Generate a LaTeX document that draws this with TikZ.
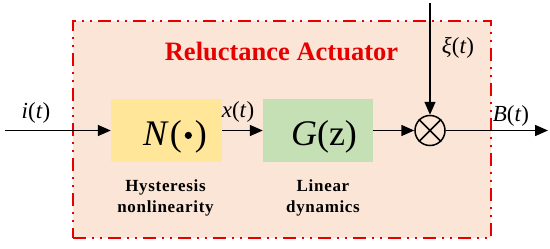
\documentclass[tikz,border=0pt]{standalone}
\usepackage{fontspec}
\setmainfont{Liberation Serif}
\newcommand{\tnr}{\rmfamily}
\usetikzlibrary{arrows.meta}
\definecolor{peach}{HTML}{FBE5D6}
\definecolor{blockyellow}{HTML}{FFE699}
\definecolor{blockgreen}{HTML}{C5E0B4}
\definecolor{framered}{HTML}{E60000}
\newcommand{\mi}[1]{\textit{#1}}
\begin{document}
\begin{tikzpicture}[x=1pt,y=-1pt,
  arr/.style={line width=1.5pt,-{Triangle[length=13pt,width=11pt]}},
  block/.style={draw=none,minimum width=111pt,minimum height=63pt,inner sep=0pt},
  sig/.style={anchor=base,inner sep=0pt,font=\tnr\fontsize{23}{26}\selectfont},
  big/.style={anchor=base,inner sep=0pt,font=\tnr\fontsize{36}{40}\selectfont},
  sub/.style={anchor=base,inner sep=0pt,font=\tnr\fontsize{17}{21}\selectfont\bfseries}]
\useasboundingbox (0,0) rectangle (550,249);
\node[draw=framered,line width=2pt,dash pattern=on 13pt off 6pt on 2pt off 6pt on 2pt off 6pt,
      fill=peach,minimum width=418pt,minimum height=217pt,inner sep=0pt] (act) at (282,129.5) {};
\node[anchor=base,inner sep=0pt,text=framered,font=\tnr\fontsize{26.5}{30}\selectfont\bfseries] (title) at (281.5,60) {Reluctance Actuator};
\node[block,fill=blockyellow] (Nbox) at (166.5,130.5) {};
\node[block,fill=blockgreen,minimum width=110pt] (Gbox) at (318,130.5) {};
\node[big] (Ntext) at (175,145) {\mi{N}\kern1pt(\kern3pt\raisebox{6pt}{\tikz\fill (0,0) circle (3.6pt);}\kern3pt)};
\node[big] (Gtext) at (324,145) {\mi{G}(z)};
\node[draw,circle,line width=1.5pt,minimum size=30pt,inner sep=0pt] (sum) at (430,130.5) {};
\draw[line width=1.5pt] (sum.north west) -- (sum.south east) (sum.north east) -- (sum.south west);
\coordinate (in) at (5,130.5);
\coordinate (top) at (430,3);
\coordinate (out) at (548,130.5);
\draw[arr] (in) -- (Nbox.west);
\draw[arr] (Nbox.east) -- (Gbox.west);
\draw[arr] (Gbox.east) -- (sum.west);
\draw[arr] (top) -- (sum.north);
\draw[arr] (sum.east) -- (out);
\node[sig] (ilab) at (36,118) {\mi{i}(\mi{t})};
\node[sig] (xlab) at (238,117) {\mi{x}(\mi{t})};
\node[sig] (xilab) at (458,53) {\mi{ξ}(\mi{t})};
\node[sig] (Blab) at (511,121.5) {\mi{B}(\mi{t})};
\node[sub] (h1) at (165.5,191) {\addfontfeature{LetterSpace=4}Hysteresis};
\node[sub] (h2) at (165.5,212) {\addfontfeature{LetterSpace=4}nonlinearity};
\node[sub] (l1) at (323,191) {\addfontfeature{LetterSpace=4}Linear};
\node[sub] (l2) at (323,212) {\addfontfeature{LetterSpace=4}dynamics};
\end{tikzpicture}
\end{document}
